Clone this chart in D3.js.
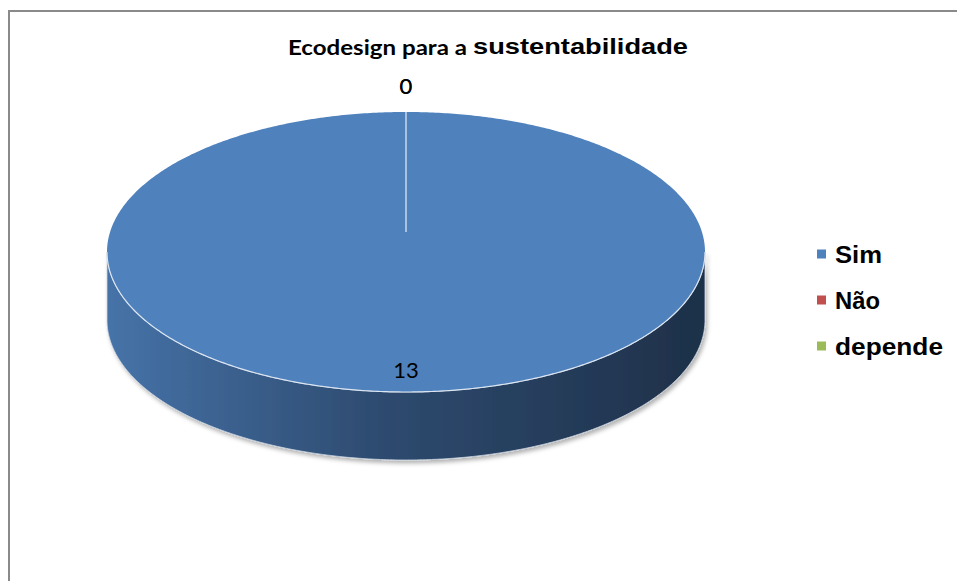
<!DOCTYPE html>
<html>
<head>
<meta charset="utf-8">
<script src="https://cdn.jsdelivr.net/npm/d3@7"></script>
<style>
  html, body { margin: 0; padding: 0; background: #ffffff; }
  svg { display: block; }
</style>
</head>
<body>
<svg id="chart" width="957" height="581"></svg>
<script>
// ---- data ----
const categories = ["Sim", "Não", "depende"];
const values = [13, 0, 0];
const colors = ["#4f81bd", "#c0504d", "#9bbb59"];
const titleParts = ["Ecodesign para a", "sustentabilidade"];

// ---- layout ----
const W = 957, H = 581;
const cx = 406, cy = 252, rx = 299, ry = 140, depth = 68;
const pivot = [cx, cy - 20];

const svg = d3.select("#chart");

// frame
svg.append("rect")
  .attr("x", 9).attr("y", 11).attr("width", 1200).attr("height", 1200)
  .attr("fill", "none").attr("stroke", "#8a8a8a").attr("stroke-width", 2);

const defs = svg.append("defs");
const grad = defs.append("linearGradient").attr("id", "sideGrad")
  .attr("gradientUnits", "userSpaceOnUse")
  .attr("x1", cx - rx).attr("x2", cx + rx).attr("y1", 0).attr("y2", 0);
grad.append("stop").attr("offset", "0%").attr("stop-color", "#4673a8");
grad.append("stop").attr("offset", "45%").attr("stop-color", "#2e4b70");
grad.append("stop").attr("offset", "100%").attr("stop-color", "#1e3049");

const shadow = defs.append("filter").attr("id", "shadow")
  .attr("x", "-10%").attr("y", "-10%").attr("width", "120%").attr("height", "130%");
shadow.append("feDropShadow").attr("dx", 2).attr("dy", 3).attr("stdDeviation", 2)
  .attr("flood-color", "#000").attr("flood-opacity", 0.3);

// title
svg.append("text")
  .attr("x", 288).attr("y", 55)
  .attr("font-family", "Lato, 'Open Sans', sans-serif")
  .attr("font-weight", "bold").attr("font-size", 20)
  .attr("textLength", 179).attr("lengthAdjust", "spacingAndGlyphs")
  .text(titleParts[0]);
svg.append("text")
  .attr("x", 473).attr("y", 54)
  .attr("font-family", "'Liberation Sans', Arial, sans-serif")
  .attr("font-weight", "bold").attr("font-size", 22)
  .attr("textLength", 215).attr("lengthAdjust", "spacingAndGlyphs")
  .text(titleParts[1]);

// pie
const pie = d3.pie().sort(null).startAngle(0).endAngle(2 * Math.PI);
const arcs = pie(values);

const angleToPoint = (a, k = 1, dy = 0) => [cx + rx * k * Math.sin(a), cy - ry * k * Math.cos(a) + dy];

function sample(a0, a1, dy) {
  const n = Math.max(2, Math.ceil(Math.abs(a1 - a0) / 0.01));
  return d3.range(n + 1).map(i => angleToPoint(a0 + (a1 - a0) * i / n, 1, dy));
}

const line = d3.line();

// side walls (front half only)
const sideG = svg.append("g").attr("filter", "url(#shadow)");
arcs.forEach(d => {
  const a0 = Math.max(d.startAngle, Math.PI / 2);
  const a1 = Math.min(d.endAngle, 3 * Math.PI / 2);
  if (a1 <= a0) return;
  const top = sample(a0, a1, 0);
  const bot = sample(a1, a0, depth);
  sideG.append("path")
    .attr("d", line(top.concat(bot)) + "Z")
    .attr("fill", "url(#sideGrad)")
    .attr("stroke", "#c9d3df").attr("stroke-width", 0.8);
});

// top faces
const topG = svg.append("g");
arcs.forEach((d, i) => {
  if (d.endAngle - d.startAngle <= 0) return;
  const pts = [pivot].concat(sample(d.startAngle, d.endAngle, 0));
  topG.append("path")
    .attr("d", line(pts) + "Z")
    .attr("fill", colors[i])
    .attr("stroke", "none");
});
// outer rim highlight
topG.append("path")
  .attr("d", line(sample(Math.PI / 2, 3 * Math.PI / 2, 0)))
  .attr("fill", "none").attr("stroke", "#dce6f2").attr("stroke-width", 1.2);

// slice boundaries
const bounds = Array.from(new Set(arcs.map(d => d.startAngle % (2 * Math.PI))));
bounds.forEach(a => {
  const p = angleToPoint(a);
  topG.append("line")
    .attr("x1", pivot[0]).attr("y1", pivot[1])
    .attr("x2", p[0]).attr("y2", p[1])
    .attr("stroke", "#e8eef6").attr("stroke-width", 1.2);
});

// data labels
const labelG = svg.append("g")
  .attr("font-family", "Lato, 'Open Sans', sans-serif")
  .attr("font-size", 22).attr("fill", "#000")
  .attr("text-anchor", "middle");
arcs.forEach(d => {
  const mid = (d.startAngle + d.endAngle) / 2;
  const k = d.value > 0 ? 0.84 : 1.19;
  const p = angleToPoint(mid, k);
  labelG.append("text")
    .attr("x", p[0]).attr("y", p[1])
    .attr("dominant-baseline", "central")
    .text(d.value);
});

// legend
const legendWidths = [47, 45, 108];
const legend = svg.append("g");
categories.forEach((c, i) => {
  const y = 254 + i * 46;
  legend.append("rect")
    .attr("x", 817).attr("y", y - 4.5).attr("width", 9).attr("height", 9)
    .attr("fill", colors[i]);
  legend.append("text")
    .attr("x", 835).attr("y", y + 9)
    .attr("font-family", "'Liberation Sans', Arial, sans-serif")
    .attr("font-weight", "bold").attr("font-size", 23)
    .attr("textLength", legendWidths[i]).attr("lengthAdjust", "spacingAndGlyphs")
    .attr("fill", "#000")
    .text(c);
});
</script>
</body>
</html>
